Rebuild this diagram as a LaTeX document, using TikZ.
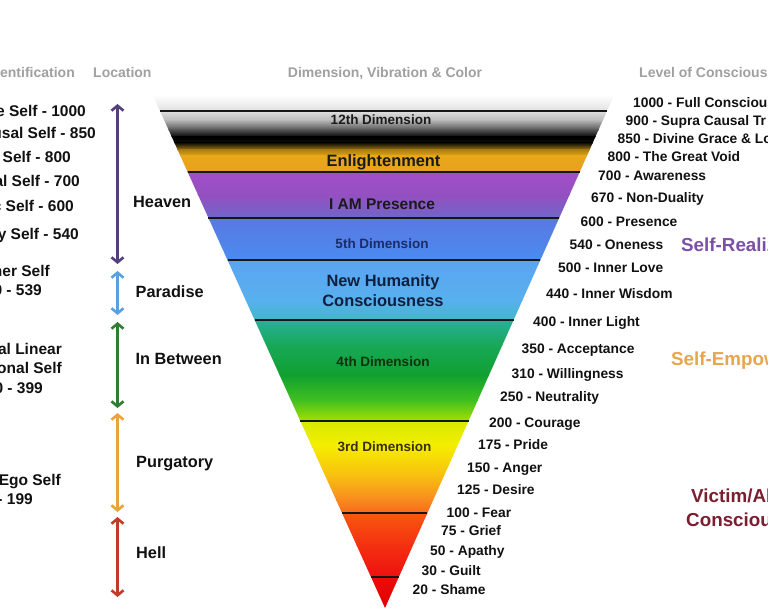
\documentclass[tikz,border=0pt]{standalone}
\usepackage{fontspec}
\setmainfont{Liberation Sans}
\usetikzlibrary{arrows.meta}
\definecolor{hdrgray}{HTML}{A0A0A0}
\definecolor{txt}{HTML}{111111}
\definecolor{arPurple}{HTML}{54407E}
\definecolor{arBlue}{HTML}{5C9FE0}
\definecolor{arGreen}{HTML}{2F7D34}
\definecolor{arOrange}{HTML}{E8A43E}
\definecolor{arRed}{HTML}{C23A2C}
\definecolor{catPurple}{HTML}{7A50A8}
\definecolor{catOrange}{HTML}{E8A64C}
\definecolor{catMaroon}{HTML}{7A1E30}
\definecolor{divline}{HTML}{161616}
% gradient stops
\definecolor{s111}{HTML}{E0E0E0}
\definecolor{s120}{HTML}{B8B8B8}
\definecolor{s130}{HTML}{505050}
\definecolor{s137}{HTML}{000000}
\definecolor{s143}{HTML}{101008}
\definecolor{s150}{HTML}{B08010}
\definecolor{s156}{HTML}{E8A818}
\definecolor{s172}{HTML}{E8A020}
\definecolor{p172}{HTML}{A24EC8}
\definecolor{p195}{HTML}{9450C0}
\definecolor{p218}{HTML}{7066C8}
\definecolor{b218}{HTML}{5A78E2}
\definecolor{b260}{HTML}{4A8CF0}
\definecolor{l260}{HTML}{5AA4F2}
\definecolor{l300}{HTML}{58B0EE}
\definecolor{l320}{HTML}{40B8C8}
\definecolor{g320}{HTML}{28B09A}
\definecolor{g345}{HTML}{18A858}
\definecolor{g375}{HTML}{10A030}
\definecolor{g400}{HTML}{40C020}
\definecolor{g421}{HTML}{A8E000}
\definecolor{y421}{HTML}{D8EA00}
\definecolor{y445}{HTML}{F4EE00}
\definecolor{y475}{HTML}{F8C010}
\definecolor{y500}{HTML}{F88A20}
\definecolor{y513}{HTML}{F86818}
\definecolor{r513}{HTML}{F85810}
\definecolor{r545}{HTML}{F43010}
\definecolor{r577}{HTML}{EE1010}
\definecolor{z577}{HTML}{EC0C0C}
\definecolor{z608}{HTML}{E00000}
\definecolor{dimDark}{HTML}{1A1A1A}
\definecolor{dimNavy}{HTML}{1C2C66}
\definecolor{dimNavy2}{HTML}{0E2040}
\definecolor{dimGreen}{HTML}{103010}
\definecolor{dimOlive}{HTML}{3A3000}
\begin{document}
\begin{tikzpicture}[x=1pt,y=-1pt,
  every node/.style={inner sep=0pt, text depth=0pt},
  hdr/.style={font=\bfseries\fontsize{14}{16}\selectfont, text=hdrgray, text height=10pt},
  ident/.style={anchor=east, font=\bfseries\fontsize{15.5}{18}\selectfont, text=txt, text height=11.1pt},
  loc/.style={anchor=west, font=\bfseries\fontsize{16.3}{18}\selectfont, text=txt, text height=11.7pt},
  lvl/.style={anchor=west, font=\bfseries\fontsize{13.8}{16}\selectfont, text=txt, text height=9.9pt},
  dimS/.style={font=\bfseries\fontsize{13.5}{16}\selectfont, text height=9.7pt},
  dimL/.style={font=\bfseries\fontsize{16.4}{18}\selectfont, text height=11.7pt},
  dimM/.style={font=\bfseries\fontsize{15.5}{18}\selectfont, text height=11.1pt},
  cat/.style={anchor=west, font=\bfseries\fontsize{18.8}{21}\selectfont, text height=13.5pt},
  locarrow/.style={line width=2.6pt, {Straight Barb[length=5pt,width=12pt]}-{Straight Barb[length=5pt,width=12pt]}},
  divider/.style={draw=divline, line width=1.6pt}
]
\useasboundingbox (0,0) rectangle (768,612);
\fill[white] (0,0) rectangle (768,612);

% ---- pyramid ----
\begin{scope}
\clip (152.8,95) -- (614.1,95) -- (385,608) -- cycle;
\shade[top color=white, bottom color=s111] (140,95) rectangle (630,111.5);
\shade[top color=s111, bottom color=s120] (140,111) rectangle (630,120.5);
\shade[top color=s120, bottom color=s130] (140,120) rectangle (630,130.5);
\shade[top color=s130, bottom color=s137] (140,130) rectangle (630,137.5);
\shade[top color=s137, bottom color=s143] (140,137) rectangle (630,143.5);
\shade[top color=s143, bottom color=s150] (140,143) rectangle (630,150.5);
\shade[top color=s150, bottom color=s156] (140,150) rectangle (630,156.5);
\shade[top color=s156, bottom color=s172] (140,156) rectangle (630,172.5);
\shade[top color=p172, bottom color=p195] (140,172) rectangle (630,195.5);
\shade[top color=p195, bottom color=p218] (140,195) rectangle (630,218.5);
\shade[top color=b218, bottom color=b260] (140,218) rectangle (630,260.5);
\shade[top color=l260, bottom color=l300] (140,260) rectangle (630,300.5);
\shade[top color=l300, bottom color=l320] (140,300) rectangle (630,320.5);
\shade[top color=g320, bottom color=g345] (140,320) rectangle (630,345.5);
\shade[top color=g345, bottom color=g375] (140,345) rectangle (630,375.5);
\shade[top color=g375, bottom color=g400] (140,375) rectangle (630,400.5);
\shade[top color=g400, bottom color=g421] (140,400) rectangle (630,421.5);
\shade[top color=y421, bottom color=y445] (140,421) rectangle (630,445.5);
\shade[top color=y445, bottom color=y475] (140,445) rectangle (630,475.5);
\shade[top color=y475, bottom color=y500] (140,475) rectangle (630,500.5);
\shade[top color=y500, bottom color=y513] (140,500) rectangle (630,513.5);
\shade[top color=r513, bottom color=r545] (140,513) rectangle (630,545.5);
\shade[top color=r545, bottom color=r577] (140,545) rectangle (630,577.5);
\shade[top color=z577, bottom color=z608] (140,577) rectangle (630,610);
\end{scope}

% dividers
\coordinate (d0l) at (160,111);   \coordinate (d0r) at (607,111);
\coordinate (d1l) at (187.6,172); \coordinate (d1r) at (579.8,172);
\coordinate (d2l) at (208.4,218); \coordinate (d2r) at (559.2,218);
\coordinate (d3l) at (227.5,260); \coordinate (d3r) at (540.4,260);
\coordinate (d4l) at (254.6,320); \coordinate (d4r) at (513.6,320);
\coordinate (d5l) at (300.3,421); \coordinate (d5r) at (468.5,421);
\coordinate (d6l) at (342.0,513); \coordinate (d6r) at (427.4,513);
\coordinate (d7l) at (371.0,577); \coordinate (d7r) at (398.8,577);
\draw[divider, line width=2pt] (d0l) -- (d0r);
\draw[divider] (d1l) -- (d1r);
\draw[divider] (d2l) -- (d2r);
\draw[divider] (d3l) -- (d3r);
\draw[divider] (d4l) -- (d4r);
\draw[divider] (d5l) -- (d5r);
\draw[divider] (d6l) -- (d6r);
\draw[divider] (d7l) -- (d7r);

% dimension labels
\node[dimS, text=dimDark] (t12) at (381,120) {12th Dimension};
\node[dimL, text=dimDark] (tEn) at (383.5,161) {Enlightenment};
\node[dimM, text=dimDark] (tIAM) at (382,204) {I AM Presence};
\node[dimS, text=dimNavy] (t5) at (382,244) {5th Dimension};
\node[dimL, text=dimNavy2] (tNH1) at (383,281) {New Humanity};
\node[dimL, text=dimNavy2] (tNH2) at (383,301) {Consciousness};
\node[dimS, text=dimGreen] (t4) at (383,362) {4th Dimension};
\node[dimS, text=dimOlive] (t3) at (384.5,447) {3rd Dimension};

% headers
\node[hdr, anchor=east] (hId) at (75,73) {entification};
\node[hdr, anchor=west] (hLoc) at (93,73) {Location};
\node[hdr] (hDim) at (385,73) {Dimension, Vibration \& Color};
\node[hdr, anchor=west] (hLev) at (639,73) {Level of Conscious};

% identification (left, cut)
\node[ident] (i1) at (86,111) {e Self - 1000};
\node[ident] (i2) at (96,133) {usal Self - 850};
\node[ident] (i3) at (71,157) {l Self - 800};
\node[ident] (i4) at (80,181) {al Self - 700};
\node[ident] (i5) at (74,206) {c Self - 600};
\node[ident] (i6) at (79,234) {ry Self - 540};
\node[ident] (i7) at (50,271) {her Self};
\node[ident] (i8) at (42,290) {0 - 539};
\node[ident] (i9) at (62,349) {al Linear};
\node[ident] (i10) at (62,368) {onal Self};
\node[ident] (i11) at (43,388) {0 - 399};
\node[ident] (i12) at (61,480) {Ego Self};
\node[ident] (i13) at (33,499) {- 199};

% location arrows
\coordinate (a1t) at (117.5,104); \coordinate (a1b) at (117.5,264);
\coordinate (a2t) at (117.5,271); \coordinate (a2b) at (117.5,315);
\coordinate (a3t) at (117.5,322); \coordinate (a3b) at (117.5,408);
\coordinate (a4t) at (117.5,413); \coordinate (a4b) at (117.5,512);
\coordinate (a5t) at (117.5,517); \coordinate (a5b) at (117.5,597);
\draw[locarrow, draw=arPurple] (a1t) -- (a1b);
\draw[locarrow, draw=arBlue] (a2t) -- (a2b);
\draw[locarrow, draw=arGreen] (a3t) -- (a3b);
\draw[locarrow, draw=arOrange] (a4t) -- (a4b);
\draw[locarrow, draw=arRed] (a5t) -- (a5b);

\node[loc] (lHeaven) at (133,201.5) {Heaven};
\node[loc] (lPar) at (135.5,291.5) {Paradise};
\node[loc] (lBet) at (135.5,359) {In Between};
\node[loc] (lPur) at (136,461.5) {Purgatory};
\node[loc] (lHell) at (136,553) {Hell};

% levels of consciousness
\node[lvl] (v1000) at (633,103) {1000 - Full Conscious};
\node[lvl] (v900) at (625.5,121) {900 - Supra Causal Tr};
\node[lvl] (v850) at (617.5,139) {850 - Divine Grace \& Lo};
\node[lvl] (v800) at (607.5,157) {800 - The Great Void};
\node[lvl] (v700) at (598,176) {700 - Awareness};
\node[lvl] (v670) at (591,198) {670 - Non-Duality};
\node[lvl] (v600) at (580.5,221.5) {600 - Presence};
\node[lvl] (v540) at (569.5,244.5) {540 - Oneness};
\node[lvl] (v500) at (558,267.5) {500 - Inner Love};
\node[lvl] (v440) at (546,293.5) {440 - Inner Wisdom};
\node[lvl] (v400) at (533,322) {400 - Inner Light};
\node[lvl] (v350) at (521.5,348.5) {350 - Acceptance};
\node[lvl] (v310) at (511.5,373.5) {310 - Willingness};
\node[lvl] (v250) at (500,397) {250 - Neutrality};
\node[lvl] (v200) at (489,422.5) {200 - Courage};
\node[lvl] (v175) at (478,445) {175 - Pride};
\node[lvl] (v150) at (467,468) {150 - Anger};
\node[lvl] (v125) at (457,490) {125 - Desire};
\node[lvl] (v100) at (446.5,512.5) {100 - Fear};
\node[lvl] (v75) at (441,531) {75 - Grief};
\node[lvl] (v50) at (430,551) {50 - Apathy};
\node[lvl] (v30) at (421.5,570.5) {30 - Guilt};
\node[lvl] (v20) at (412.5,590) {20 - Shame};

% categories
\node[cat, text=catPurple] (cSR) at (681,245) {Self-Realiz};
\node[cat, text=catOrange] (cSE) at (671,359) {Self-Empow};
\node[cat, text=catMaroon] (cV1) at (691,496) {Victim/Ab};
\node[cat, text=catMaroon] (cV2) at (686,520) {Conscious};
\end{tikzpicture}
\end{document}
